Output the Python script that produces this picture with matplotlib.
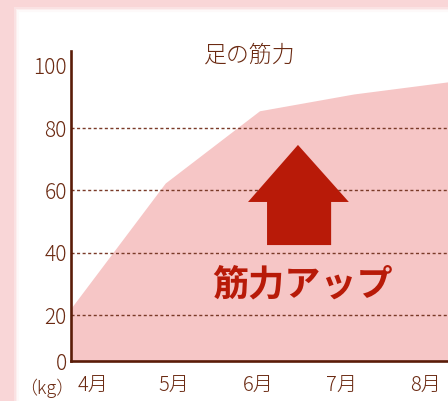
import numpy as np
import matplotlib
matplotlib.use("Agg")
import matplotlib.pyplot as plt
from matplotlib.patches import Polygon, Rectangle

plt.rcParams['font.family'] = ['Noto Sans CJK JP', 'DejaVu Sans']

# data
months = ["4月", "5月", "6月", "7月", "8月"]
strength = [22.2, 62.4, 85.6, 91.0, 94.9]
y_ticks = [0, 20, 40, 60, 80, 100]
title = "足の筋力"
unit = "（kg）"
caption = "筋力アップ"

# label positions along x (the labels sit a bit off the data points in the original)
label_pos = [0.23, 1.09, 1.99, 2.87, 3.76]

brown = "#6b2a12"
axis_brown = "#5a1c08"
grid_brown = "#7a3a28"
pink_bg = "#f9d6d7"
fill_pink = "#f6c6c6"
red = "#b81a08"


# the y axis is squeezed below 20 in the original picture
def fwd(y):
    y = np.asarray(y, dtype=float)
    return np.where(y < 20, y * 0.7384, y - 5.23)


def inv(u):
    u = np.asarray(u, dtype=float)
    return np.where(u < 14.77, u / 0.7384, u + 5.23)


fig = plt.figure(figsize=(4.48, 4.01), dpi=100, facecolor=pink_bg)
W, H = 448, 401

# white panel with a soft edge
for i, a in enumerate([0.3, 0.45, 0.65, 0.85, 1.0]):
    x0 = 14 + i * 1.5
    y0 = 7 + i * 1.5
    fig.patches.append(Rectangle((x0 / W, 0), 1.2, 1 - y0 / H, transform=fig.transFigure,
                                 facecolor="white", alpha=a, edgecolor="none", zorder=-1))

ax = fig.add_axes([71 / W, 40 / H, 377 / W, 310 / H])
ax.set_zorder(1)
ax.set_facecolor("none")
ax.set_yscale("function", functions=(fwd, inv))

x = np.arange(len(strength))
ax.fill_between(x, strength, 0, color=fill_pink, lw=0, zorder=1)

for v in y_ticks[1:-1]:
    ax.axhline(v, color=grid_brown, lw=1.0, dashes=(2.2, 1.8), zorder=2)

ax.set_xlim(0, 4)
ax.set_ylim(0, 104.8)
ax.set_yticks(y_ticks)
ax.set_yticklabels([str(v) for v in y_ticks])
ax.set_xticks(label_pos)
ax.set_xticklabels(months)
ax.tick_params(length=0, colors=brown, labelsize=14.5)
ax.tick_params(axis="y", pad=3, labelsize=15)
ax.tick_params(axis="x", pad=11)
ax.yaxis.set_minor_locator(matplotlib.ticker.NullLocator())
for lab in ax.get_xticklabels() + ax.get_yticklabels():
    lab.set_fontweight("light")

for s in ["top", "right"]:
    ax.spines[s].set_visible(False)
for s in ["left", "bottom"]:
    ax.spines[s].set_color(axis_brown)
    ax.spines[s].set_linewidth(1.9)
    ax.spines[s].set_zorder(5)

# up arrow
arrow = Polygon([(0.520, 0.374), (0.690, 0.374), (0.690, 0.513), (0.737, 0.513),
                 (0.602, 0.697), (0.4695, 0.513), (0.520, 0.513)],
                closed=True, transform=ax.transAxes, facecolor=red, edgecolor="none", zorder=3)
ax.add_patch(arrow)
ax.text(0.613, 0.245, caption, transform=ax.transAxes, ha="center", va="center",
        fontsize=26, fontweight="bold", color=red, zorder=4)

fig.text(250 / W, 1 - 55 / H, title, ha="center", va="center", fontsize=16.5,
         color=brown, fontweight="light")
fig.text(47 / W, 1 - 388 / H, unit, ha="center", va="center", fontsize=13,
         color=brown, fontweight="light")

fig.savefig("out.png", dpi=100, facecolor=pink_bg)
